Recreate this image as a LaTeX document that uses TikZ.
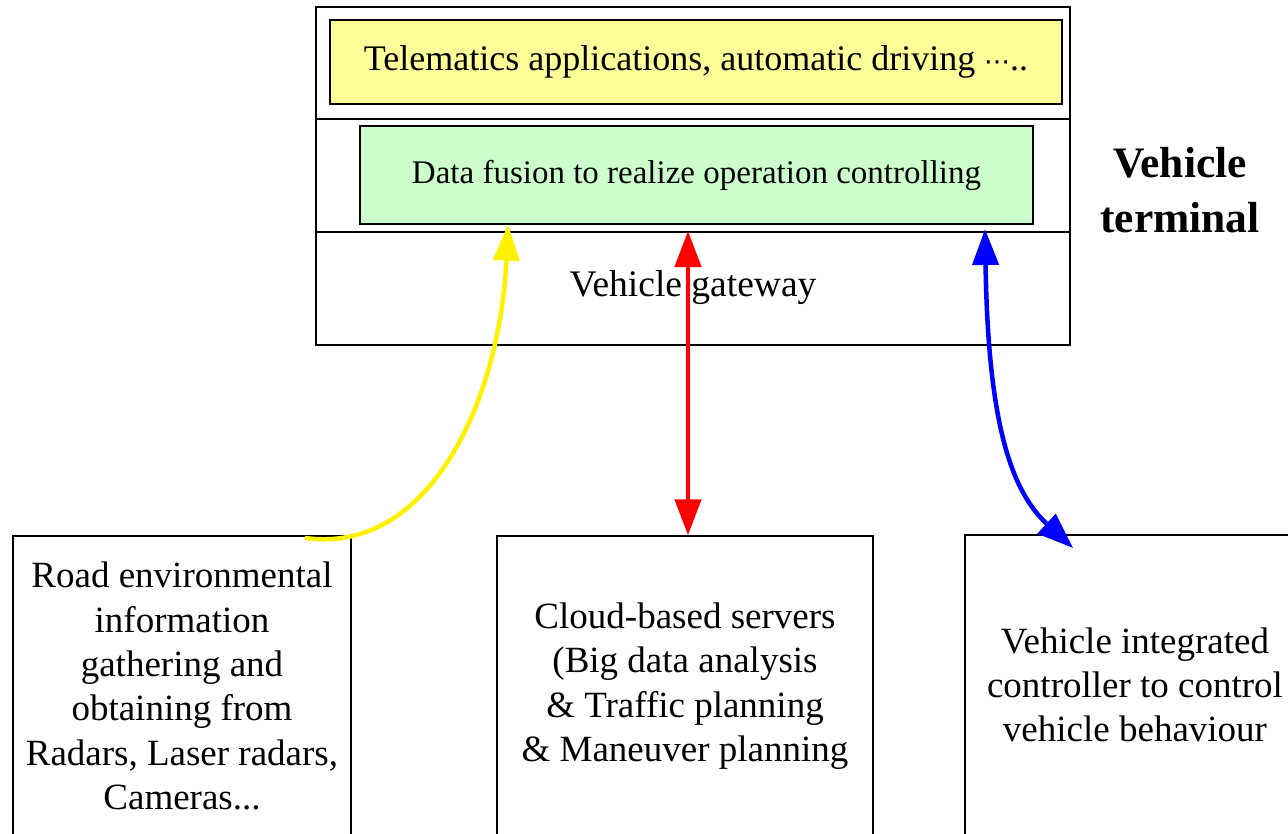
\documentclass[tikz,border=0pt]{standalone}
\usepackage{fontspec}
\setmainfont{Liberation Serif}
\newfontfamily\symfont{DejaVu Sans}
\usetikzlibrary{arrows.meta}
\definecolor{appyellow}{HTML}{FFFF99}
\definecolor{fusegreen}{HTML}{CCFFCC}
\begin{document}
\begin{tikzpicture}[x=1pt,y=-1pt,
  frame/.style={draw=black,line width=1.5pt},
  layerbox/.style={draw=black,line width=1.3pt,inner sep=0pt,anchor=center},
  bottombox/.style={draw=black,line width=1.5pt,inner sep=0pt,align=center,
     font=\fontsize{37}{44.3}\selectfont},
  conn/.style={line width=4.5pt,-{Triangle[width=26pt,length=36pt]}},
  biconn/.style={line width=4.5pt,{Triangle[width=26pt,length=36pt]}-{Triangle[width=26pt,length=36pt]}}]
\useasboundingbox (0,0) rectangle (1288,833);
\clip (0,0) rectangle (1288,833);
% vehicle terminal stack
\node[frame,minimum width=754pt,minimum height=338pt,inner sep=0pt] (term) at (693,176) {};
\draw[line width=1.3pt] (316,119) -- (1070,119);
\draw[line width=1.3pt] (316,232) -- (1070,232);
\node[layerbox,fill=appyellow,minimum width=732pt,minimum height=84pt,
  font=\fontsize{36}{38}\selectfont] (app) at (696,62) {Telematics applications, automatic driving {\symfont\fontsize{26}{28}\selectfont ⋯}..};
\node[layerbox,fill=fusegreen,minimum width=673pt,minimum height=98pt,
  font=\fontsize{33}{36}\selectfont] (fuse) at (696.5,175) {Data fusion to realize operation controlling};
\node[font=\fontsize{37.5}{40}\selectfont] (gw) at (693,288) {Vehicle gateway};
\node[align=center,font=\bfseries\fontsize{43.5}{55}\selectfont] (vt) at (1180,190) {Vehicle\\terminal};
% bottom boxes
\node[bottombox,minimum width=338pt,minimum height=300pt] (road) at (182,686)
  {Road environmental\\information\\gathering and\\obtaining from\\Radars, Laser radars,\\Cameras...};
\node[bottombox,minimum width=376pt,minimum height=300pt] (cloud) at (685,686)
  {Cloud-based servers\\(Big data analysis\\\& Traffic planning\\\& Maneuver planning};
\node[bottombox,minimum width=340pt,minimum height=300pt] (ctrl) at (1135,685)
  {Vehicle integrated\\controller to control\\vehicle behaviour};
% connectors
\coordinate (ys) at (305,538);
\coordinate (ye) at ([xshift=-188.5pt]fuse.south);
\draw[conn,yellow] (ys) .. controls (430,555) and (500,400) .. (ye);
\draw[biconn,red] ([xshift=-8.5pt]fuse.south |- 0,231) -- ([xshift=3pt]cloud.north);
\coordinate (bs) at (985,229);
\coordinate (be) at (1073,548);
\draw[biconn,blue] (bs) .. controls (988,420) and (1010,490) .. (be);
\end{tikzpicture}
\end{document}
